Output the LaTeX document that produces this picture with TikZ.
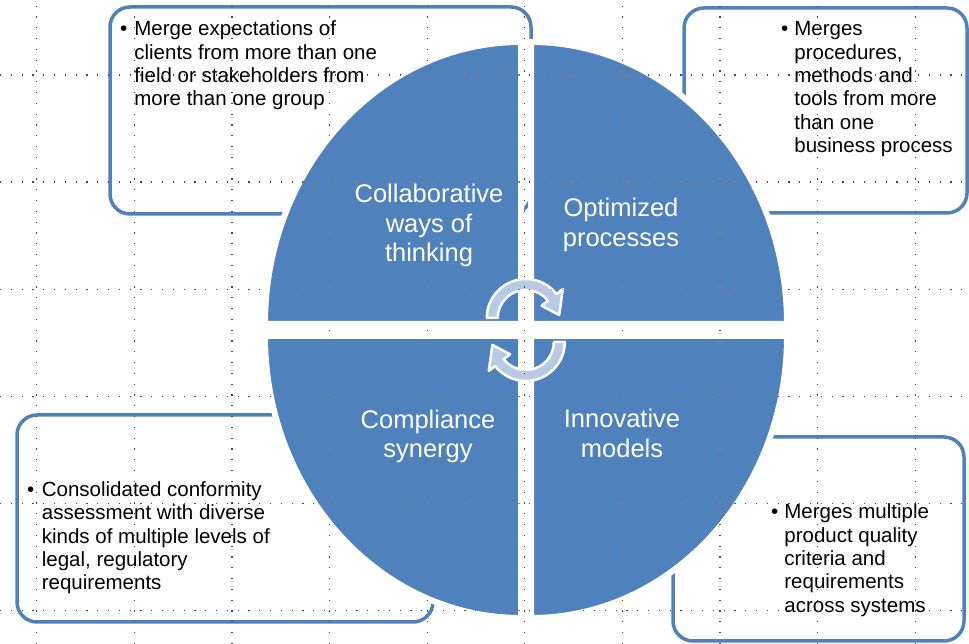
\documentclass[tikz,border=0pt]{standalone}
\usepackage{fontspec}
\setmainfont{Liberation Sans}
\definecolor{quadblue}{RGB}{79,129,189}
\definecolor{arrowblue}{RGB}{185,203,228}
\definecolor{griddot}{RGB}{70,70,70}
\definecolor{griddotb}{RGB}{150,125,95}
\newcommand{\notefont}{\fontsize{20.5}{23.3}\selectfont}
\newcommand{\quadfont}{\fontsize{25.5}{29.5}\selectfont}

\begin{document}
\begin{tikzpicture}[x=1pt,y=1pt,
  notebox/.style={draw=quadblue, line width=3.5pt, fill=white, rounded corners=20pt},
  quad/.style={fill=quadblue, draw=white, line width=6pt},
  turn/.style={fill=arrowblue, draw=white, line width=2.5pt, line join=round},
  note/.style={anchor=base west, inner sep=0pt, font=\notefont},
  quadlabel/.style={anchor=base, inner sep=0pt, text=white, font=\quadfont},
  dots/.style={line width=1.2pt, dash pattern=on 1.2pt off 9.6pt}]
\useasboundingbox (0,0) rectangle (969,644);

% boxes behind the circle
\draw[notebox] (110,637) rectangle (531,430);
\draw[notebox] (684,636) rectangle (967,431);
\draw[notebox] (17,229) rectangle (433,22);
\draw[notebox] (673,207) rectangle (964,3);

% four quarters
\draw[quad] (521,320) -- (265,320) arc[start angle=180, end angle=90, x radius=256, y radius=282] -- cycle;
\draw[quad] (531,320) -- (531,602) arc[start angle=90, end angle=0, x radius=256, y radius=282] -- cycle;
\draw[quad] (521,308) -- (521,26) arc[start angle=270, end angle=180, x radius=256, y radius=282] -- cycle;
\draw[quad] (531,308) -- (787,308) arc[start angle=0, end angle=-90, x radius=256, y radius=282] -- cycle;

% turning arrows in the middle
\begin{scope}[shift={(525.8,326)}]
\draw[turn] (180:39) arc[start angle=180, end angle=38, radius=39] -- (38:47) -- (5:33.5) -- (38:20) -- (38:28) arc[start angle=38, end angle=180, radius=28] -- cycle;
\end{scope}
\begin{scope}[shift={(525.8,302)}]
\draw[turn] (0:39) arc[start angle=0, end angle=-142, radius=39] -- (-142:47) -- (-175:33.5) -- (-142:20) -- (-142:28) arc[start angle=-142, end angle=0, radius=28] -- cycle;
\end{scope}

\node[quadlabel] (collab) at (429,441.3) {\begin{tabular}[t]{@{}c@{}}Collaborative\\ways of\\thinking\end{tabular}};
\node[quadlabel] (optim) at (621,427) {\begin{tabular}[t]{@{}c@{}}Optimized\\processes\end{tabular}};
\node[quadlabel] (compl) at (428,215.7) {\begin{tabular}[t]{@{}c@{}}Compliance\\synergy\end{tabular}};
\node[quadlabel] (innov) at (622,216) {\begin{tabular}[t]{@{}c@{}}Innovative\\models\end{tabular}};

\node[note] (tlnote) at (120,608) {\begin{tabular}[t]{@{}l@{\hspace{7pt}}l@{}}\textbullet & Merge expectations of\\ & clients from more than one\\ & field or stakeholders from\\ & more than one group\end{tabular}};
\node[note] (trnote) at (781,608) {\begin{tabular}[t]{@{}l@{\hspace{6pt}}l@{}}\textbullet & Merges\\ & procedures,\\ & methods and\\ & tools from more\\ & than one\\ & business process\end{tabular}};
\node[note] (blnote) at (27,147.3) {\begin{tabular}[t]{@{}l@{\hspace{7.5pt}}l@{}}\textbullet & Consolidated conformity\\ & assessment with diverse\\ & kinds of multiple levels of\\ & legal, regulatory\\ & requirements\end{tabular}};
\node[note] (brnote) at (771,125) {\begin{tabular}[t]{@{}l@{\hspace{6pt}}l@{}}\textbullet & Merges multiple\\ & product quality\\ & criteria and\\ & requirements\\ & across systems\end{tabular}};

% dotted grid on top
\foreach \gx in {0,...,9}
  \draw[dots, griddot] (36.7+97.6*\gx,0) -- (36.7+97.6*\gx,644);
\foreach \gy in {0,...,5}
  \draw[dots, griddot] (0,569-107.1*\gy) -- (969,569-107.1*\gy);
\begin{scope}
\clip (521,320) -- (268,320) arc[start angle=180, end angle=90, x radius=253, y radius=279] -- cycle
      (531,320) -- (531,599) arc[start angle=90, end angle=0, x radius=253, y radius=279] -- cycle
      (521,308) -- (521,29) arc[start angle=270, end angle=180, x radius=253, y radius=279] -- cycle
      (531,308) -- (784,308) arc[start angle=0, end angle=-90, x radius=253, y radius=279] -- cycle;
\foreach \gx in {0,...,9}
  \draw[dots, griddotb] (36.7+97.6*\gx,0) -- (36.7+97.6*\gx,644);
\foreach \gy in {0,...,5}
  \draw[dots, griddotb] (0,569-107.1*\gy) -- (969,569-107.1*\gy);
\end{scope}
\end{tikzpicture}
\end{document}
